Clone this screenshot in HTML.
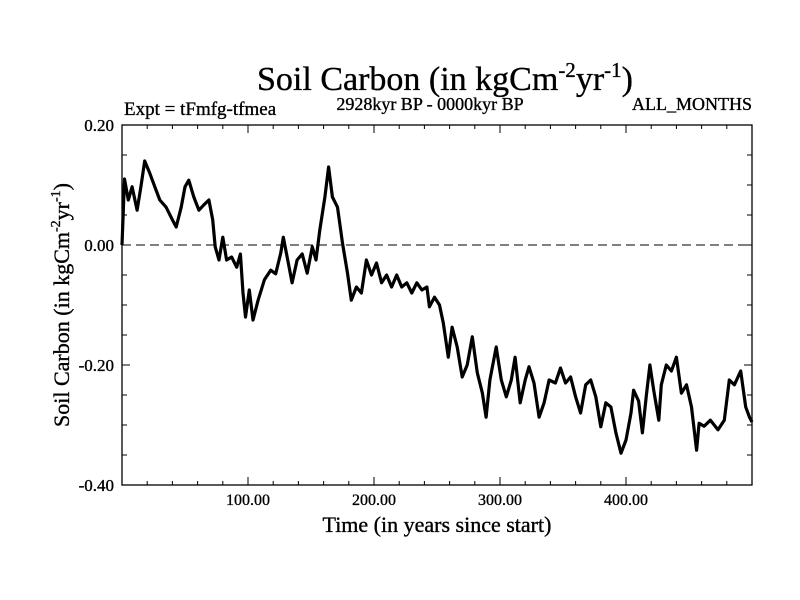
<!DOCTYPE html>
<html><head><meta charset="utf-8"><style>
body{margin:0;background:#fff}
svg{display:block;font-family:"Liberation Serif",serif}
text{stroke:#000;stroke-width:0.35}
</style></head><body>
<svg id="chart" width="800" height="600" viewBox="0 0 800 600">
<text x="445" y="90" text-anchor="middle" font-size="34">Soil Carbon (in kgCm<tspan font-size="21" dy="-13">-2</tspan><tspan dy="13">yr</tspan><tspan font-size="21" dy="-13">-1</tspan><tspan dy="13">)</tspan></text>
<text x="124" y="115" font-size="19">Expt = tFmfg-tfmea</text>
<text x="430" y="110" text-anchor="middle" font-size="18">2928kyr BP - 0000kyr BP</text>
<text x="752" y="110" text-anchor="end" font-size="18">ALL_MONTHS</text>
<text x="437" y="532" text-anchor="middle" font-size="22">Time (in years since start)</text>
<text transform="translate(69,305) rotate(-90)" text-anchor="middle" font-size="22">Soil Carbon (in kgCm<tspan font-size="14" dy="-9">-2</tspan><tspan dy="9">yr</tspan><tspan font-size="14" dy="-9">-1</tspan><tspan dy="9">)</tspan></text>
<g id="axes"></g>
<g id="marks"></g>
</svg>
<script>
const years=[0,2,5,8,12,15,18,22,26,30,35,40,43,47,50,53,57,61,65,69,72,74,77,80,83,87,91,94,96,98,101,104,108,113,118,122,126,128,132,135,139,143,147,151,154,157,161,164,167,171,175,179,182,186,190,194,198,202,206,210,214,218,222,226,230,234,238,242,244,248,252,255,259,262,266,270,274,278,282,286,289,292,297,301,305,309,312,316,320,323,327,331,335,339,344,348,352,356,360,364,368,372,376,380,384,388,392,396,400,404,406,410,413,416,419,422,426,428,432,436,440,444,448,452,456,458,462,467,473,478,482,486,491,495,498,500];
const values=[0,0.11,0.075,0.097,0.058,0.097,0.14,0.12,0.097,0.075,0.063,0.042,0.03,0.063,0.097,0.108,0.08,0.058,0.067,0.075,0.042,-0.003,-0.025,0.013,-0.025,-0.02,-0.037,-0.015,-0.08,-0.12,-0.075,-0.125,-0.092,-0.058,-0.042,-0.048,-0.013,0.013,-0.03,-0.063,-0.025,-0.015,-0.047,-0.003,-0.025,0.025,0.08,0.13,0.08,0.063,0.003,-0.047,-0.092,-0.07,-0.08,-0.025,-0.05,-0.03,-0.063,-0.05,-0.07,-0.05,-0.07,-0.063,-0.08,-0.063,-0.075,-0.07,-0.103,-0.087,-0.1,-0.13,-0.187,-0.137,-0.17,-0.22,-0.2,-0.153,-0.213,-0.247,-0.287,-0.225,-0.17,-0.225,-0.253,-0.225,-0.187,-0.263,-0.225,-0.203,-0.23,-0.287,-0.263,-0.225,-0.23,-0.205,-0.23,-0.22,-0.253,-0.28,-0.233,-0.225,-0.253,-0.303,-0.263,-0.27,-0.313,-0.347,-0.325,-0.28,-0.242,-0.26,-0.313,-0.253,-0.2,-0.242,-0.292,-0.233,-0.2,-0.21,-0.187,-0.247,-0.233,-0.27,-0.342,-0.297,-0.302,-0.292,-0.308,-0.292,-0.225,-0.233,-0.21,-0.27,-0.287,-0.295];
const yTickValues=[0.2,0,-0.2,-0.4];
const yTickLabels=["0.20","0.00","-0.20","-0.40"];
const xTickValues=[100,200,300,400];
const xTickLabels=["100.00","200.00","300.00","400.00"];
const L=122,R=752,T=125,B=485,X0=0,X1=500,Y0=-0.4,Y1=0.2;
const sx=v=>L+(v-X0)/(X1-X0)*(R-L);
const sy=v=>B-(v-Y0)/(Y1-Y0)*(B-T);
const NS="http://www.w3.org/2000/svg";
const axes=document.getElementById('axes'),marks=document.getElementById('marks');
function mk(tag,attrs,parent){const e=document.createElementNS(NS,tag);for(const k in attrs)e.setAttribute(k,attrs[k]);parent.appendChild(e);return e;}
const frame=mk('rect',{x:L,y:T,width:R-L,height:B-T,fill:'none',stroke:'#000','stroke-width':1.3},axes);


const zero=mk('line',{x1:L,x2:R,y1:sy(0),y2:sy(0),stroke:'#000','stroke-width':1,'stroke-dasharray':'9,5'},axes);


for(let v=Y0;v<=Y1+1e-9;v+=0.05){const major=Math.abs(Math.round(v*5)-v*5)<1e-6;const len=major?8:5;const y=sy(v);
 const t1=mk('line',{x1:L,x2:L+len,y1:y,y2:y,stroke:'#000'},axes);
 
 
 const t2=mk('line',{x1:R,x2:R-len,y1:y,y2:y,stroke:'#000'},axes);
 
 }
for(let v=20;v<X1;v+=20){const len=v%100===0?8:4;const x=sx(v);
 const t1=mk('line',{x1:x,x2:x,y1:B,y2:B-len,stroke:'#000'},axes);
 
 
 const t2=mk('line',{x1:x,x2:x,y1:T,y2:T+len,stroke:'#000'},axes);
 
 }
yTickValues.forEach((v,i)=>{const t=mk('text',{x:L-8,y:sy(v)+6,'text-anchor':'end','font-size':17},axes);t.textContent=yTickLabels[i];
 
 });
xTickValues.forEach((v,i)=>{const t=mk('text',{x:sx(v),y:B+20,'text-anchor':'middle','font-size':16},axes);t.textContent=xTickLabels[i];
 
 });
const d=years.map((yr,i)=>(i?'L':'M')+sx(yr).toFixed(1)+','+sy(values[i]).toFixed(1)).join('');
const line=mk('path',{d:d,fill:'none',stroke:'#000','stroke-width':3.2,'stroke-linejoin':'round'},marks);


</script>
</body></html>
